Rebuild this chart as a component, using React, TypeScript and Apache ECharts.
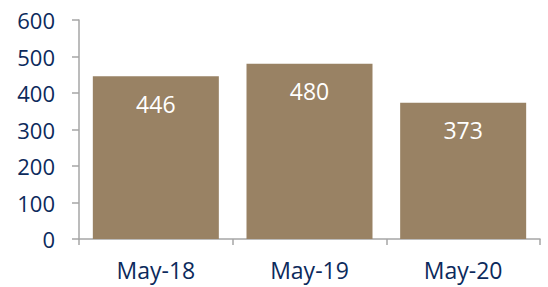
import React, { useEffect, useRef } from "react";
import * as echarts from "echarts";

const categories = ["May-18", "May-19", "May-20"];
const values = [446, 480, 373];
const yTicks = [0, 100, 200, 300, 400, 500, 600];

const NAVY = "#0C2A5C";
const FONT = "'Open Sans', sans-serif";

export default function App() {
  const ref = useRef<HTMLDivElement>(null);
  useEffect(() => {
    if (!ref.current) return;
    const chart = echarts.init(ref.current, undefined, { renderer: "svg" });
    chart.setOption({
      animation: false,
      grid: { left: 79, right: 8, top: 20, bottom: 48 },
      xAxis: {
        type: "category",
        data: categories,
        axisLine: { show: true, lineStyle: { color: "#A6A6A6", width: 1.5 } },
        axisTick: { show: true, length: 6, lineStyle: { color: "#A6A6A6", width: 1.5 } },
        axisLabel: { color: NAVY, fontSize: 23, fontFamily: FONT, margin: 19 },
      },
      yAxis: {
        type: "value",
        min: yTicks[0],
        max: yTicks[yTicks.length - 1],
        interval: 100,
        splitLine: { show: false },
        axisLine: { show: true, lineStyle: { color: "#A6A6A6", width: 1.5 } },
        axisTick: { show: true, length: 7, lineStyle: { color: "#A6A6A6", width: 1.5 } },
        axisLabel: { color: NAVY, fontSize: 22, fontFamily: FONT, margin: 24 },
      },
      series: [
        {
          type: "bar",
          data: values,
          barCategoryGap: "18%",
          itemStyle: { color: "#998264" },
          label: {
            show: true,
            position: "insideTop",
            distance: 16,
            color: "#FFFFFF",
            fontSize: 23,
            fontFamily: FONT,
          },
        },
      ],
    });
    return () => chart.dispose();
  }, []);
  return <div ref={ref} style={{ width: 548, height: 287, position: "absolute", left: 0, top: 0 }} />;
}
